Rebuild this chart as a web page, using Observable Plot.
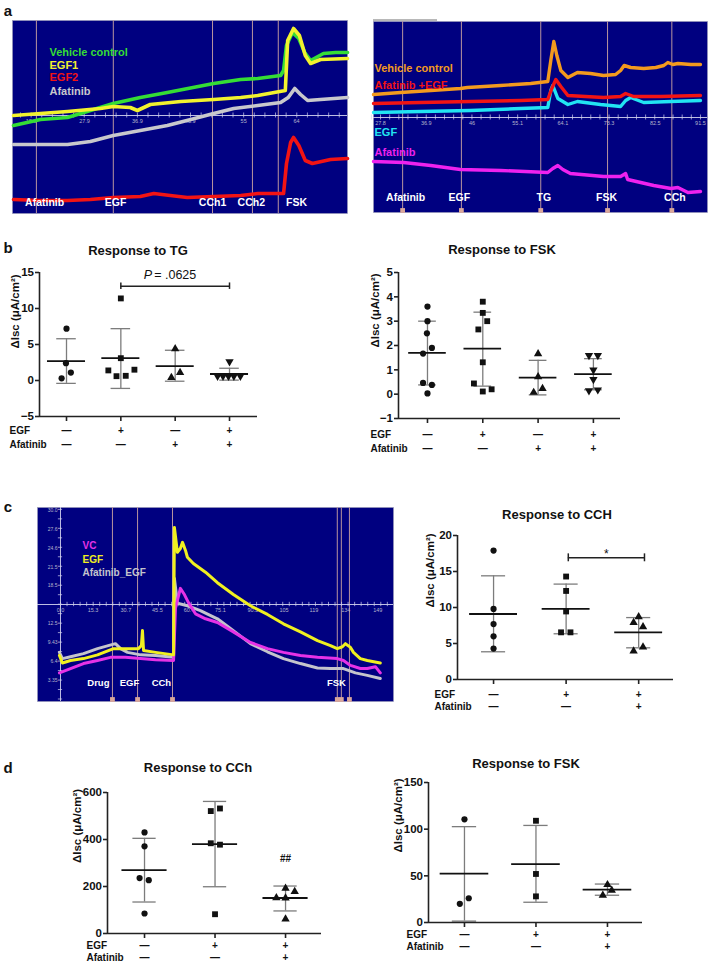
<!DOCTYPE html>
<html><head><meta charset="utf-8">
<script src="https://cdn.jsdelivr.net/npm/d3@7"></script>
<script src="https://cdn.jsdelivr.net/npm/@observablehq/plot@0.6"></script>
<style>
html,body{margin:0;padding:0;background:#fff;}
#root{position:relative;width:709px;height:966px;overflow:hidden;font-family:"Liberation Sans",Arial,sans-serif;color:#111;}
#root svg{position:absolute;overflow:visible;}
.t{position:absolute;white-space:nowrap;font-weight:bold;transform:translate(-50%,-50%);line-height:1;}
</style></head><body><div id="root"></div>
<script>
// ===================== DATA =====================
// Panel a (left): Isc traces, time (min) vs current (arbitrary units, 0 = axis line)
const aL_green_t = [15.8,20.4,25.0,32.8,37.4,42.0,49.9,54.5,57.4,61.3,61.8,62.3,63.3,64.4,65.4,66.4,68.6,70.7,72.7];
const aL_green_v = [-10,-4,-2,12,18,23,32,36,37,40,45,70,83,77,63,55,62,63,63];
const aL_yellow_t = [15.8,20.4,25.0,30.6,32.8,35.7,36.9,39.1,44.3,49.9,54.5,57.4,62.1,62.5,63.5,64.5,65.5,66.4,68.1,72.7];
const aL_yellow_v = [0,2,4,7,9,8,5,11,14,16,18,20,25,75,87,80,60,52,56,57];
const aL_gray_t = [15.8,20.4,25.0,28.9,32.8,37.4,42.0,46.0,49.9,53.3,57.4,61.3,62.6,63.7,64.7,65.9,68.1,72.7];
const aL_gray_v = [-29,-29,-29,-26,-20,-15,-10,-4,2,7,10,13,18,27,21,15,16,18];
const aL_red_t = [15.8,20.4,25.0,28.9,32.8,37.4,39.7,42.5,45.4,49.9,54.5,57.4,61.8,62.3,63.0,63.5,64.4,65.5,66.7,69.8,72.7];
const aL_red_v = [-84,-85,-85,-84,-82,-81,-78,-80,-82,-81,-80,-78,-78,-48,-27,-22,-30,-45,-48,-44,-43];
const aL_events = [19.7,32.8,49.7,56.5,60.9];
const aL_eventNames = ["Afatinib","EGF","CCh1","CCh2","FSK"];
const aL_eventNameT = [21.1,33.2,49.7,56.3,64.0];
const aL_tickValues = [18.8,27.9,36.9,45.9,55,64];
const aL_tickLabels = ["18.8","27.9","36.9","45.9","55","64"];
const aL_legend = ["Vehicle control","EGF1","EGF2","Afatinib"];

// Panel a (right)
const aR_orange_t = [26.4,31.8,37.8,43.7,45.1,51.7,57.7,61.1,61.7,62.3,62.9,63.7,65.1,67.0,69.6,72.2,74.6,75.6,76.3,77.6,80.2,82.6,84.2,85.0,86.0,87.0,89.6,91.5];
const aR_orange_v = [23,25,27,29,30,32,34,36,57,76,62,47,40,45,44,42,43,47,52,50,49,50,52,55,53,54,53,53];
const aR_red_t = [26.4,35.8,45.7,55.7,61.1,61.9,62.7,63.7,65.1,68.6,72.2,75.6,76.6,78.2,83.6,91.5];
const aR_red_v = [14,15,16,17,18,29,38,31,22,21,20,21,24,21,21,22];
const aR_cyan_t = [26.4,35.8,45.7,55.7,61.1,61.7,62.1,63.1,65.1,67.0,71.6,75.6,76.6,77.6,80.2,85.6,91.5];
const aR_cyan_v = [5,6,7,9,10,27,32,19,13,16,13,11,17,20,15,16,17];
const aR_magenta_t = [26.4,32.4,37.8,43.7,51.7,61.1,62.1,63.1,64.1,65.6,72.2,75.6,76.6,77.0,82.2,85.6,87.0,89.0,91.5];
const aR_magenta_v = [-44,-45,-48,-52,-53,-55,-51,-48,-52,-56,-59,-59,-56,-62,-68,-71,-70,-75,-74];
const aR_events = [32.2,43.9,59.7,73.0,85.8];
const aR_eventNames = ["Afatinib","EGF","TG","FSK","CCh"];
const aR_eventNameT = [32.8,43.5,60.3,72.8,86.4];
const aR_tickValues = [27.8,36.9,46,55.1,64.1,73.3,82.5,91.5];
const aR_tickLabels = ["27.8","36.9","46","55.1","64.1","73.3","82.5","91.5"];
const aR_legend = ["Vehicle control","Afatinib +EGF","EGF","Afatinib"];

// Panel c (left): Isc (µA) vs time
const cL_vc_t = [-0.5,4.7,10.8,17.4,23.5,30.5,37.6,44.6,53.1,54.0,56.3,58.2,60.1,63.4,68.1,73.7,81.2,89.2,97.2,104.7,112.7,120.7,130.0,132.9,136.2,140.8,144.1,147.9,150.2];
const cL_vc_v = [4.5,5.2,6.0,6.5,7.0,7.0,6.8,6.6,6.5,14.9,18.1,17.1,15.8,14.0,13.2,12.6,11.1,9.4,8.4,7.8,7.3,7.0,6.8,6.5,5.7,5.2,5.2,5.5,4.5];
const cL_egf_t = [-0.5,0.9,4.7,10.8,17.4,24.9,30.5,36.6,38.0,38.5,39.0,44.6,53.1,53.5,54.9,56.3,57.3,58.7,59.6,62.4,68.1,73.7,81.2,89.2,97.2,104.7,112.7,120.7,126.8,130.0,132.4,133.8,136.2,137.6,140.8,144.1,150.2];
const cL_egf_v = [7.3,6.1,6.5,6.8,7.4,8.4,8.4,8.4,8.9,11.3,8.1,7.8,7.4,27.9,23.9,24.5,25.5,24.2,23.1,22.1,20.7,19.0,17.1,15.3,13.9,12.4,11.1,9.7,8.9,8.4,8.7,9.2,8.6,7.8,6.8,6.5,6.1];
const cL_afa_t = [-0.5,0.9,4.7,10.8,17.4,25.8,28.2,31.5,37.6,44.6,53.1,53.5,54.9,57.3,59.6,65.7,73.7,81.2,89.2,97.2,104.7,112.7,120.7,126.8,132.9,138.5,144.1,150.2];
const cL_afa_v = [7.8,6.8,7.1,7.6,8.4,9.2,8.4,7.8,7.4,7.3,7.0,19.7,15.7,15.5,15.3,14.5,13.2,11.3,9.2,7.9,6.8,6.0,5.3,5.2,5.2,4.5,4.1,3.6];
const cL_events = [24.4,36.2,52.6,130.0,131.9,135.7];
const cL_eventNames = ["Drug","EGF","CCh","FSK"];
const cL_eventNameT = [17.8,32.4,47.4,129.6];
const cL_xTickValues = [0,15.3,30.7,45.5,60.4,75.1,90.3,105,119,134,149];
const cL_xTickLabels = ["0.0","15.3","30.7","45.5","60.4","75.1","90.3","105","119","134","149"];
const cL_yTickValues = [3.35,6.4,9.43,12.5,18.5,21.5,24.6,27.6,30.6];
const cL_yTickLabels = ["3.35","6.4","9.43","12.5","18.5","21.5","24.6","27.6","30.0"];
const cL_legend = ["VC","EGF","Afatinib_EGF"];

// Panel b: Response to TG
const bTG_ctrl = [7.2,2.4,1.1,0.3];
const bTG_egf = [11.4,3.1,1.4,0.6,0.65,1.5];
const bTG_afa = [4.4,1.1,0.4];
const bTG_both = [2.6,0.6,0.6,0.6,0.6,0.6];
const bTG_jitter = [[0,-0.01,0.08,-0.09],[0,0,-0.23,-0.08,0.09,0.25],[0,0.09,-0.07],[0,-0.22,-0.12,-0.02,0.08,0.2]];
const bTG_mean = [2.7,3.1,2.0,0.9];
const bTG_sdLo = [-0.4,-1.1,-0.1,0.05];
const bTG_sdHi = [5.8,7.2,4.2,1.7];
const bTG_pGroups = [2,4];
const bTG_pY = 13.1;
const bTG_pText = "= .0625";

// Panel b: Response to FSK
const bFSK_ctrl = [3.6,3.0,2.5,1.9,1.67,0.46,0.38,0.03];
const bFSK_egf = [3.8,3.34,3.0,2.66,1.31,0.44,0.2,0.11];
const bFSK_afa = [1.66,0.71,0.23,0.07];
const bFSK_both = [1.59,1.59,1.0,0.61,0.14,0.18];
const bFSK_jitter = [[0,0,-0.01,0.08,-0.08,-0.08,0.08,0],[0,0,0.08,-0.08,0,-0.16,0.16,0],[0,0,0.08,-0.08],[-0.08,0.08,0,0,-0.08,0.08]];
const bFSK_mean = [1.7,1.87,0.68,0.82];
const bFSK_sdLo = [0.38,0.33,-0.03,0.18];
const bFSK_sdHi = [3.0,3.37,1.39,1.46];

// Panel c: Response to CCH
const cCCH_ctrl = [17.9,9.8,7.7,6.0,4.3];
const cCCH_egf = [14.3,12.3,9.45,6.55,6.55];
const cCCH_both = [8.7,7.9,7.3,4.5,3.95];
const cCCH_jitter = [[0,0,0,0,0],[0,0,0,-0.07,0.06],[0,-0.07,0.06,0.06,-0.07]];
const cCCH_mean = [9.1,9.8,6.55];
const cCCH_sdLo = [3.85,6.35,4.4];
const cCCH_sdHi = [14.4,13.25,8.6];
const cCCH_sigGroups = [2.03,3.08];
const cCCH_sigY = 16.9;

// Panel d: Response to CCh
const dCCh_ctrl = [430,371,236,227,85];
const dCCh_egf = [532,521,384,378,82];
const dCCh_both = [192,178,152,151,61];
const dCCh_jitter = [[0,0,-0.07,0.06,0],[0.07,-0.06,-0.06,0.07,0],[0,0.13,-0.13,0,0]];
const dCCh_mean = [270,380,151];
const dCCh_sdLo = [134,199,96];
const dCCh_sdHi = [405,562,202];
const dCCh_hashY = 318;

// Panel d: Response to FSK
const dFSK_ctrl = [110.5,26,20];
const dFSK_egf = [109,52,28];
const dFSK_both = [40.5,34.5,29];
const dFSK_jitter = [[0,0.06,-0.065],[0,0,0],[0,0.06,-0.065]];
const dFSK_mean = [52.3,62.6,35.2];
const dFSK_sdLo = [1.5,21.7,29.2];
const dFSK_sdHi = [102.7,104,41.2];

const egfRow4 = ["—","+","—","+"];
const afaRow4 = ["—","—","+","+"];
const egfRow3 = ["—","+","+"];
const afaRow3 = ["—","—","+"];
const YLABEL = "ΔIsc (μA/cm²)";

// ===================== DRAWING =====================
const FONT = '"Liberation Sans", Arial, sans-serif';
const BG = "#000080";
const EB = "#7c7c7c";
const root = document.getElementById("root");
function place(node, left, top) { node.style.position = "absolute"; node.style.left = left + "px"; node.style.top = top + "px"; root.appendChild(node); }
function label(text, cx, cy, size) { const d = document.createElement("div"); d.className = "t"; d.textContent = text; d.style.left = cx + "px"; d.style.top = cy + "px"; d.style.fontSize = size + "px"; root.appendChild(d); }
function zip(t, v) { return t.map((x, i) => ({t: x, v: v[i]})); }

function tracePanel(o) {
  const ax = "#d2d2ee";
  const marks = [
    Plot.frame({fill: BG, stroke: "#9a9ab8", strokeWidth: 0.6}),
    Plot.ruleX(o.events, {x: d => d, stroke: "#b9959e", strokeWidth: 1}),
    Plot.ruleY([o.axisY], {y: d => d, stroke: ax, strokeWidth: 0.9}),
    Plot.ruleX(o.minorTicks, {x: d => d, y1: o.axisY - o.tickLen, y2: o.axisY + o.tickLen, stroke: ax, strokeWidth: 0.7}),
    Plot.text(o.tickValues, {x: d => d, y: o.axisY, text: (d, i) => o.tickLabels[i], dy: 6, fontSize: 5.5, fill: "#b4b4cc"})
  ];
  if (o.vAxis) {
    marks.push(
      Plot.ruleX([o.vAxis.t], {x: d => d, stroke: ax, strokeWidth: 0.9}),
      Plot.ruleY(o.vAxis.minor, {y: d => d, x1: o.vAxis.t - o.vAxis.tickLen, x2: o.vAxis.t + o.vAxis.tickLen, stroke: ax, strokeWidth: 0.7}),
      Plot.text(o.vAxis.values, {x: o.vAxis.t, y: d => d, text: (d, i) => o.vAxis.labels[i], dx: -3, textAnchor: "end", fontSize: 5, fill: "#b4b4cc"})
    );
  }
  o.series.forEach(s => marks.push(Plot.line(zip(s.t, s.v), {x: "t", y: "v", stroke: s.color, strokeWidth: o.sw, strokeLinejoin: "round", strokeLinecap: "round"})));
  o.legend.forEach((l, i) => marks.push(Plot.text([l], {text: d => d, frameAnchor: "top-left", dx: o.legendDx, dy: o.legendDy[i], fill: o.legendColors[i], fontSize: o.legendSize, fontWeight: "bold", textAnchor: "start"})));
  if (o.markers) marks.push(Plot.dot(o.events, {x: d => d, frameAnchor: "bottom", symbol: "square", r: 2.7, fill: "#d9a79b", dy: -2}));
  marks.push(Plot.text(o.eventNames, {x: (d, i) => o.eventNameT[i], text: d => d, frameAnchor: "bottom", dy: -o.nameDy, fill: "#ffffff", fontSize: o.nameSize, fontWeight: "bold"}));
  const svg = Plot.plot({width: o.width, height: o.height, margin: 0,
    x: {domain: o.xDomain, axis: null}, y: {domain: o.yDomain, axis: null},
    style: {fontFamily: FONT, background: "transparent"}, marks});
  place(svg, o.left, o.top);
}

const triDown = {draw(ctx, size) { const s3 = Math.sqrt(3); const y = -Math.sqrt(size / (s3 * 3)); ctx.moveTo(0, -y * 2); ctx.lineTo(-s3 * y, y); ctx.lineTo(s3 * y, y); ctx.closePath(); }};
const SYM = {circle: "circle", square: "square", triangle: "triangle", triDown: triDown};
const RAD = {circle: 3.1, square: 3.3, triangle: 3.1, triDown: 3.1};

function dotPlot(o) {
  const cats = o.means.map((m, i) => i + 1);
  const stats = o.means.map((m, i) => ({x: i + 1, m, lo: o.sdLo[i], hi: o.sdHi[i]}));
  const marks = [
    Plot.ruleX(stats, {x: "x", y1: "lo", y2: "hi", stroke: EB, strokeWidth: 1.3}),
    Plot.ruleY(stats, {y: "hi", x1: d => d.x - o.cap, x2: d => d.x + o.cap, stroke: EB, strokeWidth: 1.3}),
    Plot.ruleY(stats, {y: "lo", x1: d => d.x - o.cap, x2: d => d.x + o.cap, stroke: EB, strokeWidth: 1.3}),
    Plot.ruleY(stats, {y: "m", x1: d => d.x - o.half, x2: d => d.x + o.half, stroke: "#111", strokeWidth: 1.8})
  ];
  o.values.forEach((g, i) => {
    const pts = g.map((v, j) => ({x: i + 1 + o.jitter[i][j], v}));
    const s = o.symbols[i];
    marks.push(Plot.dot(pts, {x: "x", y: "v", symbol: SYM[s], r: RAD[s], fill: "#111", stroke: "none"}));
  });
  marks.push(
    Plot.ruleX([o.xDomain[0]], {x: d => d, stroke: "#222", strokeWidth: 1.6}),
    Plot.ruleY([o.yDomain[0]], {y: d => d, stroke: "#222", strokeWidth: 1.6}),
    Plot.axisY({ticks: o.yTicks, tickSize: 4, tickPadding: 1.5, tickFormat: d3.format("d"), label: null, fontSize: 11.5, fontWeight: "bold", stroke: "#222", strokeWidth: 1.6}),
    Plot.axisX({ticks: cats, tickSize: 5, tickFormat: () => "", label: null, stroke: "#222", strokeWidth: 1.6}),
    Plot.text(o.egfRow, {x: (d, i) => i + 1, text: d => d, frameAnchor: "bottom", dy: o.rowDy[0], fontSize: 10, fontWeight: "bold"}),
    Plot.text(o.afaRow, {x: (d, i) => i + 1, text: d => d, frameAnchor: "bottom", dy: o.rowDy[1], fontSize: 10, fontWeight: "bold"}),
    Plot.text(["EGF"], {text: d => d, frameAnchor: "bottom-left", dx: o.headDx, dy: o.rowDy[0], textAnchor: "start", fontSize: 10, fontWeight: "bold"}),
    Plot.text(["Afatinib"], {text: d => d, frameAnchor: "bottom-left", dx: o.headDx, dy: o.rowDy[1], textAnchor: "start", fontSize: 10, fontWeight: "bold"}),
    Plot.text([YLABEL], {text: d => d, frameAnchor: "left", rotate: -90, dx: o.ylabDx, dy: o.ylabDy, fontSize: 11.5, fontWeight: "bold"})
  );
  if (o.extra) marks.push(...o.extra);
  const svg = Plot.plot({width: o.width, height: o.height,
    marginTop: o.mt, marginBottom: o.mb, marginLeft: o.ml, marginRight: o.mr,
    x: {domain: o.xDomain}, y: {domain: o.yDomain},
    style: {fontFamily: FONT, fontSize: "11px", fontWeight: "bold", color: "#111", background: "transparent"}, marks});
  place(svg, o.left, o.top);
}

// ---- panel a left
tracePanel({left: 12, top: 20, width: 335, height: 193, xDomain: [15.63, 72.69], yDomain: [-98, 95], axisY: 0,
  events: aL_events, tickValues: aL_tickValues, tickLabels: aL_tickLabels,
  minorTicks: d3.range(18.8 - 1.81, 72.6, 1.81), tickLen: 2.5,
  series: [
    {t: aL_green_t, v: aL_green_v, color: "#35dd35"},
    {t: aL_gray_t, v: aL_gray_v, color: "#c8c8cc"},
    {t: aL_red_t, v: aL_red_v, color: "#f21414"},
    {t: aL_yellow_t, v: aL_yellow_v, color: "#f2f22e"}
  ], sw: 3.6,
  legend: aL_legend, legendColors: ["#35dd35", "#f2f22e", "#f21414", "#c8c8cc"], legendDx: 37, legendDy: [28, 41, 53, 67], legendSize: 11,
  eventNames: aL_eventNames, eventNameT: aL_eventNameT, nameDy: 8, nameSize: 10.5, markers: false});

// ---- panel a right
tracePanel({left: 373, top: 21, width: 334, height: 191, xDomain: [26.4, 92.9], yDomain: [-95, 96], axisY: 0,
  events: aR_events, tickValues: aR_tickValues, tickLabels: aR_tickLabels,
  minorTicks: d3.range(27.8 - 1.82, 92.8, 1.82), tickLen: 2.5,
  series: [
    {t: aR_orange_t, v: aR_orange_v, color: "#f39a1e"},
    {t: aR_cyan_t, v: aR_cyan_v, color: "#22e4f2"},
    {t: aR_red_t, v: aR_red_v, color: "#f21414"},
    {t: aR_magenta_t, v: aR_magenta_v, color: "#ee22ee"}
  ], sw: 3.4,
  legend: aR_legend, legendColors: ["#f39a1e", "#f21414", "#22e4f2", "#ee22ee"], legendDx: 1, legendDy: [43, 60, 107, 127], legendSize: 11,
  eventNames: aR_eventNames, eventNameT: aR_eventNameT, nameDy: 12, nameSize: 10.5, markers: true});
{ const g = document.createElement("div"); g.style.cssText = "position:absolute;left:373px;top:19px;width:64px;height:1.5px;background:#b8b8b8;"; root.appendChild(g); }

// ---- panel c left
tracePanel({left: 37, top: 507, width: 356, height: 194, xDomain: [-10.8, 156.4], yDomain: [-0.1, 31.1], axisY: 15.5,
  events: cL_events, tickValues: cL_xTickValues, tickLabels: cL_xTickLabels,
  minorTicks: d3.range(0, 156, 3.07), tickLen: 0.35,
  vAxis: {t: 0, values: cL_yTickValues, labels: cL_yTickLabels, minor: d3.range(0.3, 31.1, 1.525), tickLen: 1},
  series: [
    {t: cL_afa_t, v: cL_afa_v, color: "#c4c4cc"},
    {t: cL_vc_t, v: cL_vc_v, color: "#e632e6"},
    {t: cL_egf_t, v: cL_egf_v, color: "#f0f020"}
  ], sw: 3,
  legend: cL_legend, legendColors: ["#e632e6", "#f0f020", "#c4c4cc"], legendDx: 45, legendDy: [34, 48, 61], legendSize: 10,
  eventNames: cL_eventNames, eventNameT: cL_eventNameT, nameDy: 16, nameSize: 9.5, markers: true});

// ---- panel b left: TG
dotPlot({left: 0, top: 230, width: 350, height: 225, mt: 42, mb: 39, ml: 39, mr: 93,
  xDomain: [0.503, 4.515], yDomain: [-5, 15], yTicks: [-5, 0, 5, 10, 15],
  values: [bTG_ctrl, bTG_egf, bTG_afa, bTG_both], jitter: bTG_jitter, symbols: ["circle", "square", "triangle", "triDown"],
  means: bTG_mean, sdLo: bTG_sdLo, sdHi: bTG_sdHi, cap: 0.18, half: 0.35,
  egfRow: egfRow4, afaRow: afaRow4, rowDy: [17, 31], headDx: -30, ylabDx: -24, ylabDy: 4,
  extra: [
    Plot.ruleY([bTG_pY], {y: d => d, x1: bTG_pGroups[0], x2: bTG_pGroups[1], stroke: "#222", strokeWidth: 1.5}),
    Plot.ruleX(bTG_pGroups, {x: d => d, y1: bTG_pY - 0.45, y2: bTG_pY + 0.45, stroke: "#222", strokeWidth: 1.5}),
    Plot.text(["P"], {text: d => d, x: (bTG_pGroups[0] + bTG_pGroups[1]) / 2, y: bTG_pY + 1.5, dx: -23, textAnchor: "end", fontStyle: "italic", fontWeight: "normal", fontSize: 12.5}),
    Plot.text([bTG_pText], {text: d => d, x: (bTG_pGroups[0] + bTG_pGroups[1]) / 2, y: bTG_pY + 1.5, dx: -21, textAnchor: "start", fontWeight: "normal", fontSize: 12.5})
  ]});
label("Response to TG", 138, 250, 13);

// ---- panel b right: FSK
dotPlot({left: 355, top: 230, width: 354, height: 225, mt: 42, mb: 37, ml: 43, mr: 89,
  xDomain: [0.476, 4.49], yDomain: [-1, 5], yTicks: [-1, 0, 1, 2, 3, 4, 5],
  values: [bFSK_ctrl, bFSK_egf, bFSK_afa, bFSK_both], jitter: bFSK_jitter, symbols: ["circle", "square", "triangle", "triDown"],
  means: bFSK_mean, sdLo: bFSK_sdLo, sdHi: bFSK_sdHi, cap: 0.16, half: 0.34,
  egfRow: egfRow4, afaRow: afaRow4, rowDy: [19, 33], headDx: -28, ylabDx: -23, ylabDy: 2});
label("Response to FSK", 502, 249, 13);

// ---- panel c right: CCH
dotPlot({left: 400, top: 505, width: 309, height: 210, mt: 30, mb: 36, ml: 57, mr: 36,
  xDomain: [0.503, 3.48], yDomain: [0, 20], yTicks: [0, 5, 10, 15, 20],
  values: [cCCH_ctrl, cCCH_egf, cCCH_both], jitter: cCCH_jitter, symbols: ["circle", "square", "triangle"],
  means: cCCH_mean, sdLo: cCCH_sdLo, sdHi: cCCH_sdHi, cap: 0.166, half: 0.33,
  egfRow: egfRow3, afaRow: afaRow3, rowDy: [18, 30], headDx: -23, ylabDx: -27, ylabDy: 0,
  extra: [
    Plot.ruleY([cCCH_sigY], {y: d => d, x1: cCCH_sigGroups[0], x2: cCCH_sigGroups[1], stroke: "#222", strokeWidth: 1.5}),
    Plot.ruleX(cCCH_sigGroups, {x: d => d, y1: cCCH_sigY - 0.55, y2: cCCH_sigY + 0.55, stroke: "#222", strokeWidth: 1.5}),
    Plot.text(["*"], {text: d => d, x: (cCCH_sigGroups[0] + cCCH_sigGroups[1]) / 2, y: cCCH_sigY, dy: -4, fontSize: 12, fontWeight: "normal"})
  ]});
label("Response to CCH", 557, 514, 13);

// ---- panel d left: CCh
dotPlot({left: 30, top: 780, width: 330, height: 186, mt: 12, mb: 33, ml: 77, mr: 39,
  xDomain: [0.475, 3.51], yDomain: [0, 600], yTicks: [0, 200, 400, 600],
  values: [dCCh_ctrl, dCCh_egf, dCCh_both], jitter: dCCh_jitter, symbols: ["circle", "square", "triangle"],
  means: dCCh_mean, sdLo: dCCh_sdLo, sdHi: dCCh_sdHi, cap: 0.165, half: 0.32,
  egfRow: egfRow3, afaRow: afaRow3, rowDy: [15, 27], headDx: -21, ylabDx: -30, ylabDy: 0,
  extra: [Plot.text(["##"], {text: d => d, x: 3, y: dCCh_hashY, fontSize: 10, fontWeight: "bold"})]});
label("Response to CCh", 198, 767, 13);

// ---- panel d right: FSK
dotPlot({left: 370, top: 775, width: 339, height: 191, mt: 7, mb: 44, ml: 58, mr: 67,
  xDomain: [0.497, 3.49], yDomain: [0, 150], yTicks: [0, 50, 100, 150],
  values: [dFSK_ctrl, dFSK_egf, dFSK_both], jitter: dFSK_jitter, symbols: ["circle", "square", "triangle"],
  means: dFSK_mean, sdLo: dFSK_sdLo, sdHi: dFSK_sdHi, cap: 0.17, half: 0.34,
  egfRow: egfRow3, afaRow: afaRow3, rowDy: [15, 27], headDx: -22, ylabDx: -30, ylabDy: 0});
label("Response to FSK", 526, 763, 13);

// panel letters
label("a", 8, 10, 15);
label("b", 8, 247, 15);
label("c", 8, 506, 15);
label("d", 8, 767, 15);
</script></body></html>
